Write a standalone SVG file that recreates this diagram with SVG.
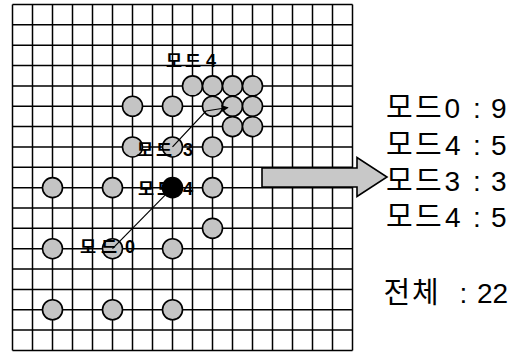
<svg xmlns="http://www.w3.org/2000/svg" width="522" height="353" viewBox="0 0 522 353">
<style>
.grid{fill:none;stroke:#000;stroke-width:1.5}
.node{fill:#c4c4c4;stroke:#000;stroke-width:1.6}
.black{fill:#000;stroke:#000;stroke-width:1.6}
.lbl{font-family:"Liberation Sans",Arial,sans-serif;font-size:18px;font-weight:bold;fill:#000}
.lbl .k{font-family:"Noto Sans CJK KR",sans-serif;font-size:17.5px;font-weight:700}
.big{font-family:"Liberation Sans",Arial,sans-serif;font-size:28px;fill:#000}
.big .k{font-family:"Noto Sans CJK KR",sans-serif;font-size:29px;font-weight:400}
.conn{fill:none;stroke:#000;stroke-width:1.2}
.blk{fill:#c8c8c8;stroke:#000;stroke-width:1.6;stroke-linejoin:miter}
</style>
<defs>
<marker id="ah" viewBox="0 0 10 10" refX="9" refY="5" markerWidth="7" markerHeight="7" markerUnits="userSpaceOnUse" orient="auto">
<path d="M0 0 L10 5 L0 10 Z" fill="#000"/>
</marker>
</defs>
<rect width="522" height="353" fill="#fff"/>
<g id="grid" class="grid">
<path d="M12.5 4.5V350.45M32.5 4.5V350.45M52.5 4.5V350.45M72.5 4.5V350.45M92.5 4.5V350.45M112.5 4.5V350.45M132.5 4.5V350.45M152.5 4.5V350.45M172.5 4.5V350.45M192.5 4.5V350.45M212.5 4.5V350.45M232.5 4.5V350.45M252.5 4.5V350.45M272.5 4.5V350.45M292.5 4.5V350.45M312.5 4.5V350.45M332.5 4.5V350.45M352.5 4.5V350.45"/>
<path d="M12.5 4.5H352.5M12.5 24.85H352.5M12.5 45.2H352.5M12.5 65.55H352.5M12.5 85.9H352.5M12.5 106.25H352.5M12.5 126.6H352.5M12.5 146.95H352.5M12.5 167.3H352.5M12.5 187.65H352.5M12.5 208H352.5M12.5 228.35H352.5M12.5 248.7H352.5M12.5 269.05H352.5M12.5 289.4H352.5M12.5 309.75H352.5M12.5 330.1H352.5M12.5 350.45H352.5"/>
</g>
<g id="n-9-4"><circle class="node" cx="192.5" cy="85.9" r="10"/></g>
<g id="n-10-4"><circle class="node" cx="212.5" cy="85.9" r="10"/></g>
<g id="n-11-4"><circle class="node" cx="232.5" cy="85.9" r="10"/></g>
<g id="n-12-4"><circle class="node" cx="252.5" cy="85.9" r="10"/></g>
<g id="n-6-5"><circle class="node" cx="132.5" cy="106.25" r="10"/></g>
<g id="n-8-5"><circle class="node" cx="172.5" cy="106.25" r="10"/></g>
<g id="n-10-5"><circle class="node" cx="212.5" cy="106.25" r="10"/></g>
<g id="n-11-5"><circle class="node" cx="232.5" cy="106.25" r="10"/></g>
<g id="n-12-5"><circle class="node" cx="252.5" cy="106.25" r="10"/></g>
<g id="n-11-6"><circle class="node" cx="232.5" cy="126.6" r="10"/></g>
<g id="n-12-6"><circle class="node" cx="252.5" cy="126.6" r="10"/></g>
<g id="n-6-7"><circle class="node" cx="132.5" cy="146.95" r="10"/></g>
<g id="n-8-7"><circle class="node" cx="172.5" cy="146.95" r="10"/></g>
<g id="n-10-7"><circle class="node" cx="212.5" cy="146.95" r="10"/></g>
<g id="n-2-9"><circle class="node" cx="52.5" cy="187.65" r="10"/></g>
<g id="n-5-9"><circle class="node" cx="112.5" cy="187.65" r="10"/></g>
<g id="n-8-9"><circle class="black" cx="172.5" cy="187.65" r="10"/></g>
<g id="n-10-9"><circle class="node" cx="212.5" cy="187.65" r="10"/></g>
<g id="n-10-11"><circle class="node" cx="212.5" cy="228.35" r="10"/></g>
<g id="n-2-12"><circle class="node" cx="52.5" cy="248.7" r="10"/></g>
<g id="n-5-12"><circle class="node" cx="112.5" cy="248.7" r="10"/></g>
<g id="n-8-12"><circle class="node" cx="172.5" cy="248.7" r="10"/></g>
<g id="n-2-15"><circle class="node" cx="52.5" cy="309.75" r="10"/></g>
<g id="n-5-15"><circle class="node" cx="112.5" cy="309.75" r="10"/></g>
<g id="n-8-15"><circle class="node" cx="172.5" cy="309.75" r="10"/></g>
<g id="connectors">
<path class="conn" d="M112.5 248.7 L172.5 187.65"/>
<path class="conn" d="M172.5 146.95 L206 111 L228 107.5" marker-end="url(#ah)"/>
<path id="big-arrow" class="blk" d="M262 168 H357 V157.5 L387 177 L357 196.5 V187 H262 Z"/>
</g>
<g id="labels">
<text class="lbl" y="67"><tspan class="k" x="166">모</tspan><tspan class="k" x="185">드</tspan><tspan x="206">4</tspan></text>
<text class="lbl" y="156"><tspan class="k" x="137">모</tspan><tspan class="k" x="156">드</tspan><tspan x="183">3</tspan></text>
<text class="lbl" y="195"><tspan class="k" x="138">모</tspan><tspan class="k" x="157">드</tspan><tspan x="183">4</tspan></text>
<text class="lbl" y="252.7"><tspan class="k" x="80">모</tspan><tspan class="k" x="101">드</tspan><tspan x="125">0</tspan></text>
</g>
<g id="summary">
<text class="big" y="118"><tspan class="k" x="386">모</tspan><tspan class="k" x="415">드</tspan><tspan x="444.5">0</tspan><tspan x="473">:</tspan><tspan x="491">9</tspan></text>
<text class="big" y="154.5"><tspan class="k" x="386">모</tspan><tspan class="k" x="415">드</tspan><tspan x="445">4</tspan><tspan x="473">:</tspan><tspan x="491">5</tspan></text>
<text class="big" y="190.5"><tspan class="k" x="386">모</tspan><tspan class="k" x="415">드</tspan><tspan x="444.5">3</tspan><tspan x="473">:</tspan><tspan x="491">3</tspan></text>
<text class="big" y="227"><tspan class="k" x="386">모</tspan><tspan class="k" x="415">드</tspan><tspan x="445">4</tspan><tspan x="473">:</tspan><tspan x="491">5</tspan></text>
<text class="big" y="303"><tspan class="k" x="383.5">전</tspan><tspan class="k" x="412">체</tspan><tspan x="459.5">:</tspan><tspan x="477">2</tspan><tspan x="492.5">2</tspan></text>
</g>
</svg>
